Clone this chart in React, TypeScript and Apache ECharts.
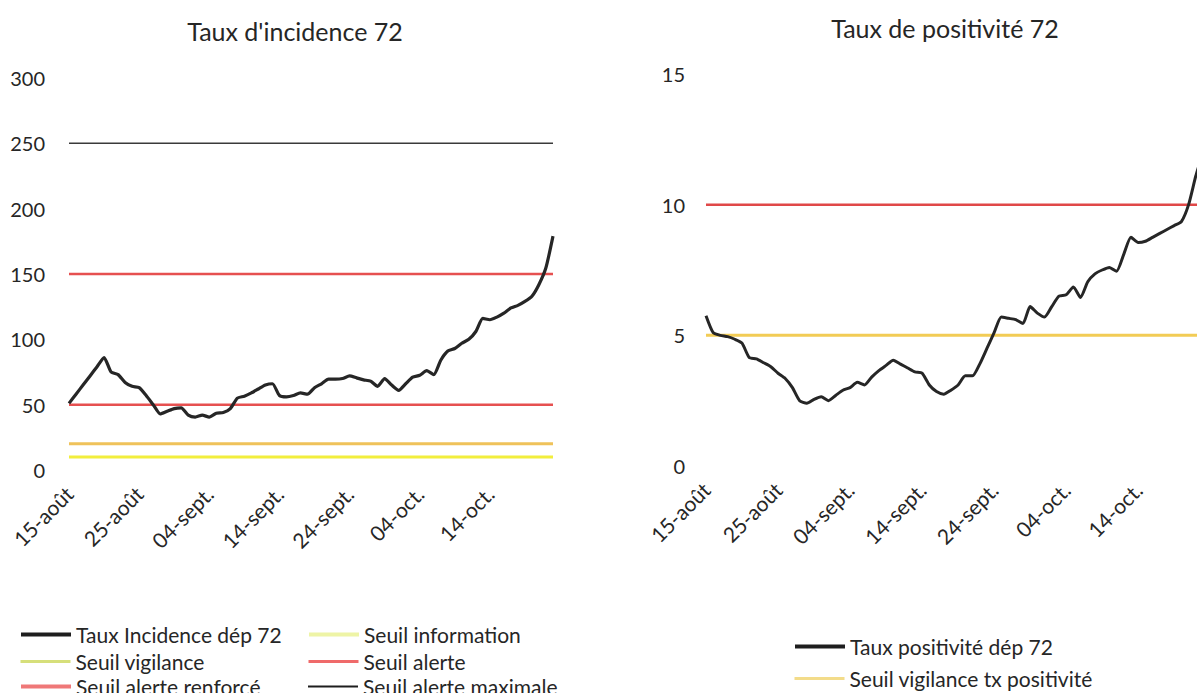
import React, { useEffect, useRef } from "react";
import * as echarts from "echarts";

const categories = [
  "15-août", "16-août", "17-août", "18-août", "19-août", "20-août", "21-août", "22-août", "23-août", "24-août",
  "25-août", "26-août", "27-août", "28-août", "29-août", "30-août", "31-août", "01-sept.", "02-sept.", "03-sept.",
  "04-sept.", "05-sept.", "06-sept.", "07-sept.", "08-sept.", "09-sept.", "10-sept.", "11-sept.", "12-sept.", "13-sept.",
  "14-sept.", "15-sept.", "16-sept.", "17-sept.", "18-sept.", "19-sept.", "20-sept.", "21-sept.", "22-sept.", "23-sept.",
  "24-sept.", "25-sept.", "26-sept.", "27-sept.", "28-sept.", "29-sept.", "30-sept.", "01-oct.", "02-oct.", "03-oct.",
  "04-oct.", "05-oct.", "06-oct.", "07-oct.", "08-oct.", "09-oct.", "10-oct.", "11-oct.", "12-oct.", "13-oct.",
  "14-oct.", "15-oct.", "16-oct.", "17-oct.", "18-oct.", "19-oct.", "20-oct.", "21-oct.", "22-oct.", "23-oct.",
];

const incidence = [
  51, 58, 65, 72, 79, 86, 75, 73, 67, 64,
  63, 57, 50, 43, 45, 47, 47.5, 42, 40.5, 42,
  40.5, 43.5, 44, 47, 55, 56.5, 59, 62, 65, 66,
  57, 56, 57, 59, 58, 63, 66, 69.5, 69.5, 70,
  72, 70.5, 69, 68, 64, 70, 65, 61, 66, 71,
  72.5, 76, 73, 84, 91, 93, 97, 100, 106, 116,
  115, 117, 120, 124, 126, 129, 133, 142, 155, 179,
];

const positivite = [
  5.75, 5.1, 5.0, 4.95, 4.85, 4.7, 4.15, 4.1, 3.95, 3.8,
  3.55, 3.35, 3.0, 2.5, 2.4, 2.55, 2.65, 2.5, 2.7, 2.9,
  3.0, 3.2, 3.1, 3.4, 3.65, 3.85, 4.05, 3.9, 3.75, 3.6,
  3.55, 3.1, 2.85, 2.75, 2.9, 3.1, 3.45, 3.45, 3.9, 4.5,
  5.1, 5.7, 5.65, 5.6, 5.45, 6.1, 5.85, 5.7, 6.1, 6.5,
  6.55, 6.85, 6.45, 7.05, 7.35, 7.5, 7.6, 7.45, 8.1, 8.75,
  8.55, 8.6, 8.75, 8.9, 9.05, 9.2, 9.35, 10.0, 11.1, 12.0,
];

const seuilInformation = 10;
const seuilVigilance = 20;
const seuilAlerte = 50;
const seuilAlerteRenforce = 150;
const seuilAlerteMaximale = 250;
const seuilVigilancePos = 5;
const seuilAlertePos = 10;

const FONT = "Lato, 'Open Sans', sans-serif";
const TXT = "#262626";

const flat = (v: number) => categories.map(() => v);

function legendItem(name: string, left: number, top: number, color: string, width: number) {
  return {
    data: [{ name, lineStyle: { color, width }, itemStyle: { color, opacity: 0 } }],
    left,
    top,
    itemWidth: 50,
    itemHeight: 14,
    selectedMode: false,
    padding: 0,
    textStyle: { fontFamily: FONT, fontSize: 21, color: TXT },
  };
}

function thresh(name: string, data: number[], color: string, width: number, axis: number) {
  return {
    name,
    type: "line",
    data,
    xAxisIndex: axis,
    yAxisIndex: axis,
    symbol: "none",
    lineStyle: { color, width },
    itemStyle: { color },
    z: 1,
  };
}

export default function App() {
  const ref = useRef<HTMLDivElement>(null);
  useEffect(() => {
    const chart = echarts.init(ref.current!, null, { renderer: "svg" });
    const xAxisBase = {
      type: "category",
      data: categories,
      boundaryGap: false,
      axisLine: { show: false },
      axisTick: { show: false },
      splitLine: { show: false },
      axisLabel: {
        interval: 9,
        rotate: 45,
        margin: 20,
        fontFamily: FONT,
        fontSize: 21,
        color: TXT,
      },
    };
    chart.setOption({
      animation: false,
      backgroundColor: "#ffffff",
      graphic: [
        {
          type: "text",
          x: 295,
          y: 31,
          style: { text: "Taux d'incidence 72", align: "center", verticalAlign: "middle", font: `25px ${FONT}`, fill: TXT },
        },
        {
          type: "text",
          x: 945,
          y: 28,
          style: { text: "Taux de positivité 72", align: "center", verticalAlign: "middle", font: `25px ${FONT}`, fill: TXT },
        },
      ],
      grid: [
        { left: 69, top: 78, width: 484, height: 392, containLabel: false },
        { left: 706, top: 74, width: 497, height: 392, containLabel: false },
      ],
      xAxis: [
        { ...xAxisBase, gridIndex: 0 },
        { ...xAxisBase, gridIndex: 1 },
      ],
      yAxis: [
        {
          type: "value",
          gridIndex: 0,
          min: 0,
          max: 300,
          interval: 50,
          axisLine: { show: false },
          axisTick: { show: false },
          splitLine: { show: false },
          axisLabel: { margin: 24, fontFamily: FONT, fontSize: 20, color: TXT },
        },
        {
          type: "value",
          gridIndex: 1,
          min: 0,
          max: 15,
          interval: 5,
          axisLine: { show: false },
          axisTick: { show: false },
          splitLine: { show: false },
          axisLabel: { margin: 21, fontFamily: FONT, fontSize: 20, color: TXT },
        },
      ],
      legend: [
        legendItem("Taux Incidence dép 72", 19, 624, "#1e1e1e", 4),
        legendItem("Seuil information", 307, 624, "#eef4a6", 4),
        legendItem("Seuil vigilance", 19, 651, "#d6df7a", 3),
        legendItem("Seuil alerte", 307, 651, "#ef6a6a", 3),
        legendItem("Seuil alerte renforcé", 19, 676, "#ef7878", 4),
        legendItem("Seuil alerte maximale", 307, 676, "#1e1e1e", 2),
        legendItem("Taux positivité dép 72", 793, 636, "#1e1e1e", 4),
        legendItem("Seuil vigilance tx positivité", 793, 668, "#f3dc8a", 3),
      ],
      series: [
        thresh("Seuil alerte maximale", flat(seuilAlerteMaximale), "#3a3a3a", 1.5, 0),
        thresh("Seuil alerte renforcé", flat(seuilAlerteRenforce), "#e65050", 2.5, 0),
        thresh("Seuil alerte", flat(seuilAlerte), "#e65050", 2.5, 0),
        thresh("Seuil vigilance", flat(seuilVigilance), "#efc25a", 3, 0),
        thresh("Seuil information", flat(seuilInformation), "#f2ee3c", 3, 0),
        {
          name: "Taux Incidence dép 72",
          type: "line",
          data: incidence,
          xAxisIndex: 0,
          yAxisIndex: 0,
          symbol: "none",
          smooth: 0.2,
          lineStyle: { color: "#262626", width: 3.2 },
          itemStyle: { color: "#262626" },
          z: 3,
        },
        thresh("Seuil alerte tx positivité", flat(seuilAlertePos), "#e04848", 2.5, 1),
        thresh("Seuil vigilance tx positivité", flat(seuilVigilancePos), "#f2cc55", 3, 1),
        {
          name: "Taux positivité dép 72",
          type: "line",
          data: positivite,
          xAxisIndex: 1,
          yAxisIndex: 1,
          symbol: "none",
          smooth: 0.2,
          lineStyle: { color: "#262626", width: 3 },
          itemStyle: { color: "#262626" },
          z: 3,
        },
      ],
    });
    return () => chart.dispose();
  }, []);
  return (
    <div
      style={{
        position: "fixed",
        left: 0,
        top: 0,
        width: 1197,
        height: 693,
        overflow: "hidden",
        background: "#ffffff",
      }}
    >
      <div ref={ref} style={{ width: 1215, height: 693 }} />
    </div>
  );
}
